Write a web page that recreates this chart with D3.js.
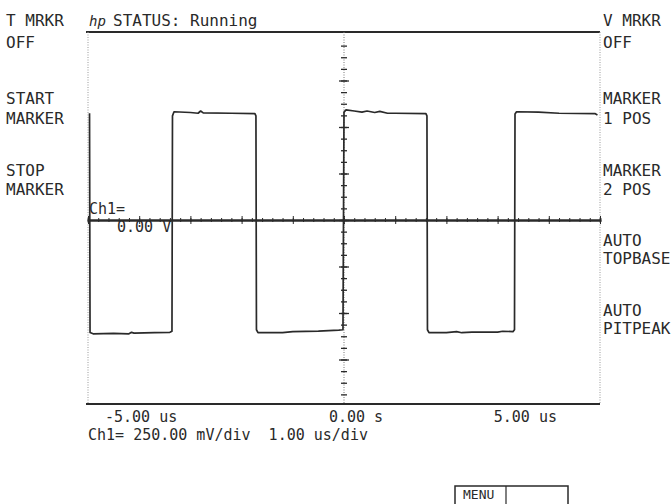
<!DOCTYPE html>
<html>
<head>
<meta charset="utf-8">
<script src="https://cdn.jsdelivr.net/npm/d3@7"></script>
<style>
  html, body { margin: 0; padding: 0; background: #fff; }
  svg text { font-family: "DejaVu Sans Mono", "Liberation Mono", monospace; font-size: 16px; fill: #2a2a2a; white-space: pre; }
</style>
</head>
<body>
<svg id="chart" width="672" height="504"></svg>
<script>
// ---- data ----
const traceTime = [-4.97, -4.96, -4.9, -4.5, -4.2, -4.15, -4.1, -3.7, -3.4, -3.36,
  -3.35, -3.32, -3.0, -2.85, -2.8, -2.75, -2.2, -1.74, -1.72,
  -1.71, -1.68, -1.2, -1.0, -0.5, -0.1, -0.02,
  0.0, 0.04, 0.2, 0.35, 0.45, 0.6, 0.7, 0.85, 1.0, 1.6, 1.62,
  1.63, 1.66, 2.0, 2.2, 2.3, 2.5, 3.0, 3.1, 3.3, 3.33,
  3.34, 3.37, 3.8, 4.2, 4.9, 4.95];
const traceVolt = [0.574, -0.605, -0.612, -0.61, -0.612, -0.604, -0.608, -0.606, -0.604, -0.598,
  0.56, 0.582, 0.578, 0.574, 0.586, 0.576, 0.574, 0.572, 0.56,
  -0.59, -0.606, -0.606, -0.6, -0.597, -0.592, -0.59,
  0.58, 0.592, 0.586, 0.58, 0.586, 0.578, 0.584, 0.574, 0.574, 0.572, 0.56,
  -0.59, -0.606, -0.606, -0.6, -0.606, -0.603, -0.603, -0.598, -0.6, -0.59,
  0.57, 0.582, 0.58, 0.574, 0.572, 0.565];
const timeDomain = [-5, 5];      // us, 1.00 us/div
const voltDomain = [-1, 1];      // V, 250 mV/div
const leftLabels = [["T MRKR", "OFF"], ["START", "MARKER"], ["STOP", "MARKER"]];
const rightLabels = [["V MRKR", "OFF"], ["MARKER", "1 POS"], ["MARKER", "2 POS"], ["AUTO", "TOPBASE"], ["AUTO", "PITPEAK"]];
const timeTickLabels = ["-5.00 us", "0.00 s", "5.00 us"];
const statusText = "STATUS: Running";
const scaleText = "Ch1= 250.00 mV/div  1.00 us/div";
const refLabel = ["Ch1=", "0.00 V"];
const menuText = "MENU";

// ---- layout ----
const svg = d3.select("#chart");
const L = 88, R = 600, T = 32, B = 404;
const x = d3.scaleLinear().domain(timeDomain).range([L, R]);
const y = d3.scaleLinear().domain(voltDomain).range([406, 34]);
const ink = "#2a2a2a";

// frame
svg.append("line").attr("x1", L - 2).attr("x2", R).attr("y1", T).attr("y2", T)
  .attr("stroke", ink).attr("stroke-width", 2);
svg.append("line").attr("x1", L - 2).attr("x2", R).attr("y1", B).attr("y2", B)
  .attr("stroke", ink).attr("stroke-width", 2);
[L, R].forEach(xx => svg.append("line").attr("x1", xx).attr("x2", xx).attr("y1", T).attr("y2", B)
  .attr("stroke", "#999").attr("stroke-width", 1).attr("stroke-dasharray", "1,1.5"));

// horizontal center axis (time) with crossing ticks
const minorT = d3.range(-5, 5.001, 0.2).map(v => +v.toFixed(2));
const majorT = d3.range(-5, 5.001, 1);
function hAxis(gen, vals, size) {
  const g = svg.append("g").attr("transform", `translate(0,${y(0)})`)
    .call(gen(x).tickValues(vals).tickSize(size).tickFormat(""));
  g.select(".domain").attr("stroke", ink).attr("stroke-width", 1.8);
  g.selectAll(".tick line").attr("stroke", ink).attr("stroke-width", 1);
  return g;
}
hAxis(d3.axisBottom, minorT, 2);
hAxis(d3.axisTop, minorT, 2);
hAxis(d3.axisBottom, majorT, 4).select(".domain").remove();
hAxis(d3.axisTop, majorT, 4).select(".domain").remove();

// vertical center axis (volts): dotted with crossing ticks
const minorV = d3.range(-1, 1.001, 0.0625).map(v => +v.toFixed(4));
const majorV = d3.range(-1, 1.001, 0.25);
function vAxis(gen, vals, size) {
  const g = svg.append("g").attr("transform", `translate(${x(0)},0)`)
    .call(gen(y).tickValues(vals).tickSize(size).tickFormat(""));
  g.select(".domain").remove();
  g.selectAll(".tick line").attr("stroke", ink).attr("stroke-width", 1.3);
  return g;
}
svg.append("line").attr("x1", x(0)).attr("x2", x(0)).attr("y1", T).attr("y2", B)
  .attr("stroke", "#777").attr("stroke-width", 1).attr("stroke-dasharray", "1,1.5");
vAxis(d3.axisLeft, minorV.filter(v => Math.abs(v) < 0.99), 3);
vAxis(d3.axisRight, minorV.filter(v => Math.abs(v) < 0.99), 3);
vAxis(d3.axisLeft, majorV.filter(v => Math.abs(v) < 0.99), 5);
vAxis(d3.axisRight, majorV.filter(v => Math.abs(v) < 0.99), 5);

// trace
const pts = traceTime.map((t, i) => [t, traceVolt[i]]);
svg.append("path").datum(pts)
  .attr("d", d3.line().x(d => x(d[0])).y(d => y(d[1])))
  .attr("fill", "none").attr("stroke", ink).attr("stroke-width", 1.7)
  .attr("stroke-linejoin", "round");

// header
svg.append("text").attr("x", 89).attr("y", 26).attr("font-style", "italic")
  .style("font-size", "14px").text("hp");
svg.append("text").attr("x", 113).attr("y", 26).text(statusText);

// side labels
const groupY = [26, 104, 176, 246, 316];
const lineGap = [22, 20, 19, 18, 18];
leftLabels.forEach((grp, i) => grp.forEach((s, j) =>
  svg.append("text").attr("x", 6).attr("y", groupY[i] + j * lineGap[i]).text(s)));
rightLabels.forEach((grp, i) => grp.forEach((s, j) =>
  svg.append("text").attr("x", 603).attr("y", groupY[i] + j * lineGap[i]).text(s)));

// ref level label
svg.append("text").attr("x", 89).attr("y", 214).style("font-size", "15px").text(refLabel[0]);
svg.append("text").attr("x", 117).attr("y", 232).style("font-size", "15px").text(refLabel[1]);

// time labels
const tPos = [[105, "start"], [356, "middle"], [557, "end"]];
timeTickLabels.forEach((s, i) =>
  svg.append("text").attr("x", tPos[i][0]).attr("y", 422).attr("text-anchor", tPos[i][1])
    .style("font-size", "15px").text(s));
svg.append("text").attr("x", 88).attr("y", 440).style("font-size", "15px").text(scaleText);

// MENU box
svg.append("rect").attr("x", 455).attr("y", 486).attr("width", 113).attr("height", 30)
  .attr("fill", "none").attr("stroke", ink).attr("stroke-width", 1.5);
svg.append("line").attr("x1", 506).attr("x2", 506).attr("y1", 486).attr("y2", 504)
  .attr("stroke", ink).attr("stroke-width", 1.2);
svg.append("text").attr("x", 463).attr("y", 499).style("font-size", "13px").text(menuText);
</script>
</body>
</html>
